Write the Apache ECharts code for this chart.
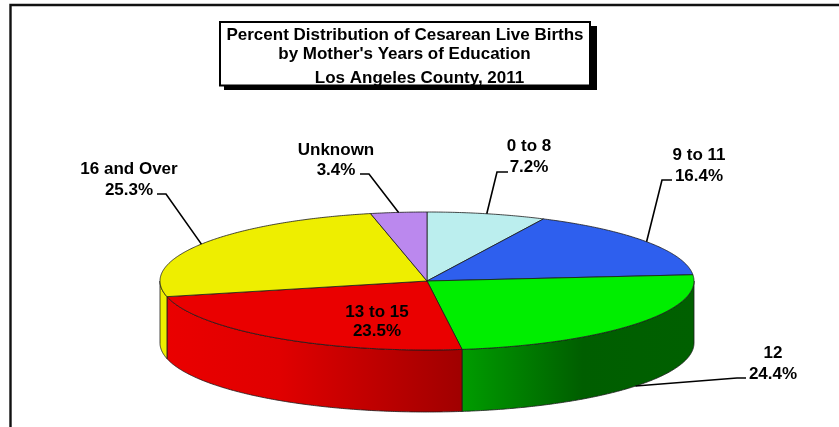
<!DOCTYPE html>
<html><head><meta charset="utf-8">
<style>html,body{margin:0;padding:0;background:#fff}#c{width:839px;height:427px}</style>
<script src="https://cdn.jsdelivr.net/npm/echarts@6/dist/echarts.min.js"></script>
</head><body><div id="c"></div>
<script>
const titleLines = ["Percent Distribution of Cesarean Live Births", "by Mother's Years of Education", "Los Angeles County, 2011"];
const categories = ["0 to 8", "9 to 11", "12", "13 to 15", "16 and Over", "Unknown"];
const values = [7.2, 16.4, 24.4, 23.5, 25.3, 3.4];

// Presentation only
const FONT = "bold 17px 'Liberation Sans', Arial, sans-serif";
const topColors = ["#BBEEEE", "#2E5FEE", "#00EE00", "#EA0000", "#EEEE00", "#BB88EE"];
const sideStops = [
  [[0, "#BBEEEE"], [1, "#BBEEEE"]],
  [[0, "#1A3A90"], [1, "#1A3A90"]],
  [[0, "#009C00"], [0.52, "#005E00"], [1, "#006000"]],
  [[0, "#EA0000"], [0.38, "#E00000"], [1, "#A00000"]],
  [[0, "#EEEE00"], [1, "#EEEE00"]],
  [[0, "#BB88EE"], [1, "#BB88EE"]]
];
const PIE = {cx: 427, cy: 281, rx: 267, ry: 69, depth: 62};
const titleLayout = [{x: 405, y: 27}, {x: 404.5, y: 46}, {x: 419.5, y: 70}];
// label centre, line height, leader elbow and leader start; rim:true anchors on the lower rim
const labelLayout = [
  {x: 529, y: 157, lh: 21, from: [508, 172], elbow: [497, 172]},
  {x: 699, y: 166, lh: 21, from: [672, 180], elbow: [662, 180]},
  {x: 773, y: 364, lh: 21, from: [746, 378], elbow: [737, 378], rim: true},
  {x: 377, y: 322, lh: 19},
  {x: 129, y: 180, lh: 21, from: [157, 194], elbow: [166, 194]},
  {x: 336, y: 160.5, lh: 20, from: [360, 174], elbow: [369, 174]}
];

const total = values.reduce((a, b) => a + b, 0);
const rad = d => d * Math.PI / 180;
const pt = (deg, drop) => [PIE.cx + PIE.rx * Math.sin(rad(deg)), PIE.cy - PIE.ry * Math.cos(rad(deg)) + (drop || 0)];
function arc(a, b, drop) {
  const out = [], n = Math.max(2, Math.ceil(Math.abs(b - a) * 2));
  for (let k = 0; k <= n; k++) out.push(pt(a + (b - a) * k / n, drop));
  return out;
}
const EDGE = {stroke: "#1c1c1c", lineWidth: 0.8, lineJoin: "round"};

function renderItem(params, api) {
  const i = params.dataIndex;
  let before = 0;
  for (let k = 0; k < i; k++) before += values[k];
  const a0 = before / total * 360, a1 = (before + api.value(0)) / total * 360;
  const children = [];
  // visible outer wall: the part of the slice between 90° and 270°
  const s0 = Math.max(a0, 90), s1 = Math.min(a1, 270);
  if (s1 > s0) {
    const rim = arc(s0, s1, 0), low = arc(s1, s0, PIE.depth);
    const xs = rim.concat(low).map(p => p[0]);
    const fill = new echarts.graphic.LinearGradient(Math.min(...xs), 0, Math.max(...xs), 0,
      sideStops[i].map(s => ({offset: s[0], color: s[1]})), true);
    children.push({type: "polygon", z2: 1, shape: {points: rim.concat(low)}, style: {fill, ...EDGE}});
  }
  // top face
  children.push({type: "polygon", z2: 2, shape: {points: [[PIE.cx, PIE.cy]].concat(arc(a0, a1, 0))},
    style: {fill: topColors[i], ...EDGE}});
  const L = labelLayout[i];
  if (L.from) {
    const anchor = pt((a0 + a1) / 2, L.rim ? PIE.depth : 0);
    children.push({type: "polyline", z2: 3, shape: {points: [L.from, L.elbow, anchor]},
      style: {fill: "none", stroke: "#000", lineWidth: 1.6}});
  }
  children.push({type: "text", z2: 4, style: {
    text: api.value(1) + "\n" + api.value(0).toFixed(1) + "%",
    x: L.x, y: L.y, align: "center", verticalAlign: "middle",
    font: FONT, lineHeight: L.lh, fill: "#000"}});
  return {type: "group", children};
}

const chart = echarts.init(document.getElementById("c"), null, {renderer: "canvas"});
chart.setOption({
  animation: false,
  backgroundColor: "#fff",
  title: titleLines.map((t, i) => ({
    text: t, left: titleLayout[i].x, top: titleLayout[i].y, textAlign: "center", padding: 0, z: 10,
    textStyle: {fontFamily: "'Liberation Sans', Arial, sans-serif", fontWeight: "bold", fontSize: 17, color: "#000", lineHeight: 16}
  })),
  graphic: [
    {type: "polyline", z: 1, shape: {points: [[10.5, 427], [10.5, 5], [839, 5]]},
      style: {fill: "none", stroke: "#111", lineWidth: 2.4}},
    {type: "rect", z: 1, shape: {x: 224, y: 26, width: 373, height: 64}, style: {fill: "#000"}},
    {type: "rect", z: 2, shape: {x: 220, y: 22, width: 370, height: 63.5}, style: {fill: "#fff", stroke: "#000", lineWidth: 2}}
  ],
  series: [{
    type: "custom", coordinateSystem: "none", silent: true, renderItem,
    data: values.map((v, i) => [v, categories[i]]),
    dimensions: [{name: "share", type: "number"}, {name: "category", type: "ordinal"}]
  }]
});
</script></body></html>
